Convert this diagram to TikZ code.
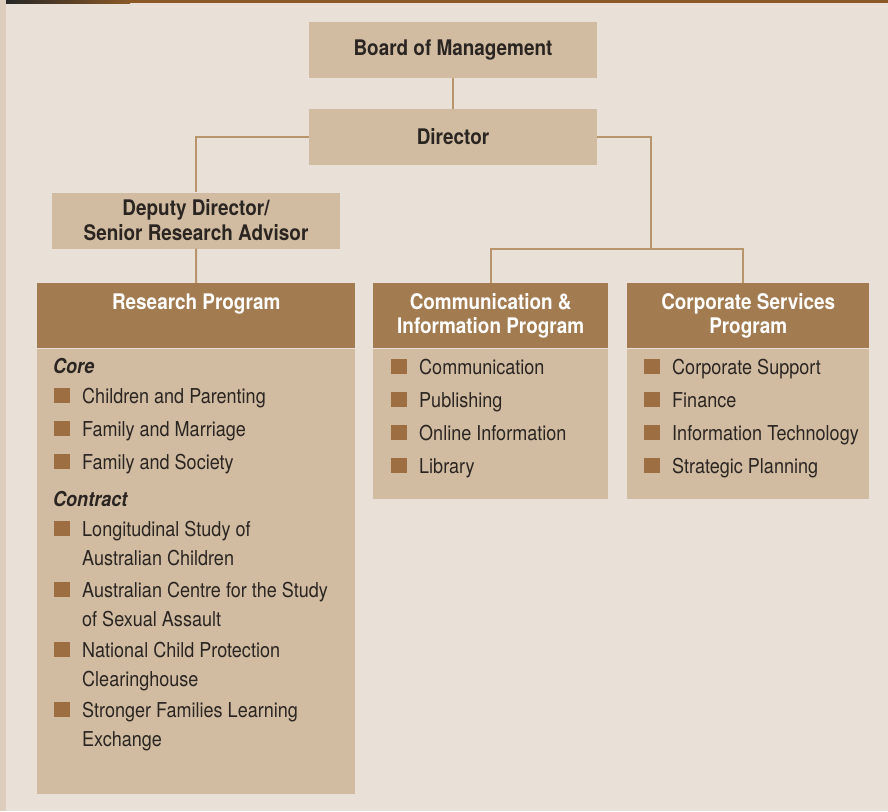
\documentclass[tikz,border=0pt]{standalone}
\usepackage{fontspec}
\setmainfont{TeX Gyre Heros}[FakeStretch=0.88]
\usetikzlibrary{positioning,calc}

\definecolor{bgpaper}{HTML}{E9E1D8}
\definecolor{bgstrip}{HTML}{DDCDBC}
\definecolor{boxfill}{HTML}{D1BCA2}
\definecolor{hdrfill}{HTML}{A27B50}
\definecolor{sqfill}{HTML}{9C6E42}
\definecolor{linkcol}{HTML}{B8956D}
\definecolor{inkcol}{HTML}{2B2522}
\definecolor{barbrown}{HTML}{8A5926}

\begin{document}
\begin{tikzpicture}[
x=1pt, y=-1pt,
lightbox/.style={
  fill=boxfill,
  draw=none,
  inner sep=0pt,
  align=center,
  text=inkcol,
  font=\fontsize{21.5}{25}\selectfont\bfseries
  },
hdrbox/.style={
  fill=hdrfill,
  draw=none,
  inner sep=0pt,
  anchor=north west
  },
bodybox/.style={
  fill=boxfill,
  draw=none,
  inner sep=0pt,
  anchor=north west
  },
hdrtext/.style={
  inner sep=0pt,
  anchor=base,
  align=center,
  text=white,
  font=\fontsize{21.5}{24}\selectfont\bfseries
  },
sq/.style={
  fill=sqfill,
  draw=none,
  inner sep=0pt,
  minimum width=16pt,
  minimum height=15pt
  },
item/.style={
  inner sep=0pt,
  anchor=base west,
  align=left,
  text=inkcol,
  font=\fontsize{20.5}{29}\selectfont
  },
subhead/.style={
  item,
  font=\fontsize{20.5}{29}\selectfont\bfseries\itshape
  },
link/.style={
  draw=linkcol,
  line width=2pt
  }
]
\useasboundingbox (0,0) rectangle (888,811);
\fill[bgpaper] (0,0) rectangle (888,811);
\fill[bgstrip] (0,0) rectangle (6,811);
\shade[left color=black!85, right color=barbrown] (6,0) rectangle (130,3);
\fill[barbrown] (130,0) rectangle (888,3);

% top of the chart
\node[lightbox, minimum width=288pt, minimum height=56pt] (board) at (453,50) {Board of Management};
\node[lightbox, minimum width=288pt, minimum height=56pt] (dir) at (453,137) {Director};
\node[lightbox, minimum width=288pt, minimum height=56pt] (deputy) at (196,220.5) {Deputy Director/\\Senior Research Advisor};

% program boxes
\node[hdrbox, minimum width=318pt, minimum height=65pt] (resH) at (37,283) {};
\node[bodybox, minimum width=318pt, minimum height=445pt] (resB) at (resH.south west) {};
\node[hdrbox, minimum width=235pt, minimum height=65pt] (comH) at (373,283) {};
\node[bodybox, minimum width=235pt, minimum height=150pt] (comB) at (comH.south west) {};
\node[hdrbox, minimum width=242pt, minimum height=65pt] (corH) at (627,283) {};
\node[bodybox, minimum width=242pt, minimum height=150pt] (corB) at (corH.south west) {};

% titles (base = last line)
\node[hdrtext] (resT) at ([yshift=-26pt]resH.north) {Research Program};
\node[hdrtext] (comT) at ([yshift=-50pt]comH.north) {Communication \&\\Information Program};
\node[hdrtext] (corT) at ([yshift=-50pt]corH.north) {Corporate Services\\Program};

% connectors
\coordinate (split) at (651,249);
\draw[link] (board) -- (dir);
\draw[link] (dir.west) -| (deputy.north);
\draw[link] (deputy.south) -- (resH.north);
\draw[link] (dir.east) -| (split);
\draw[link] (comH.north) |- (split) -| ([xshift=-5pt]corH.north);

% research lists
\node[subhead] (core) at (53,373) {Core};
\foreach \yy/\txt [count=\ii] in {403/Children and Parenting,436/Family and Marriage,469/Family and Society}
{
  \node[sq] (rsq\ii) at (62,\yy-7.5) {};
  \node[item] (ritem\ii) at (82,\yy) {\txt};
}
\node[subhead] (contract) at (53,506) {Contract};
\foreach \yy/\txt [count=\ii] in {536/{Longitudinal Study of\\Australian Children},597/{Australian Centre for the Study\\of Sexual Assault},657/{National Child Protection\\Clearinghouse},717/{Stronger Families Learning\\Exchange}}
{
  \node[sq] (csq\ii) at (62,\yy-7.5) {};
  \node[item] (citem\ii) at (82,\yy+29) {\txt};
}

% communication list
\foreach \yy/\txt [count=\ii] in {374/Communication,407/Publishing,440/Online Information,473/Library}
{
  \node[sq] (msq\ii) at (399,\yy-7.5) {};
  \node[item] (mitem\ii) at (419,\yy) {\txt};
}

% corporate list
\foreach \yy/\txt [count=\ii] in {374/Corporate Support,407/Finance,440/Information Technology,473/Strategic Planning}
{
  \node[sq] (ksq\ii) at (652,\yy-7.5) {};
  \node[item] (kitem\ii) at (672,\yy) {\txt};
}

\end{tikzpicture}
\end{document}
